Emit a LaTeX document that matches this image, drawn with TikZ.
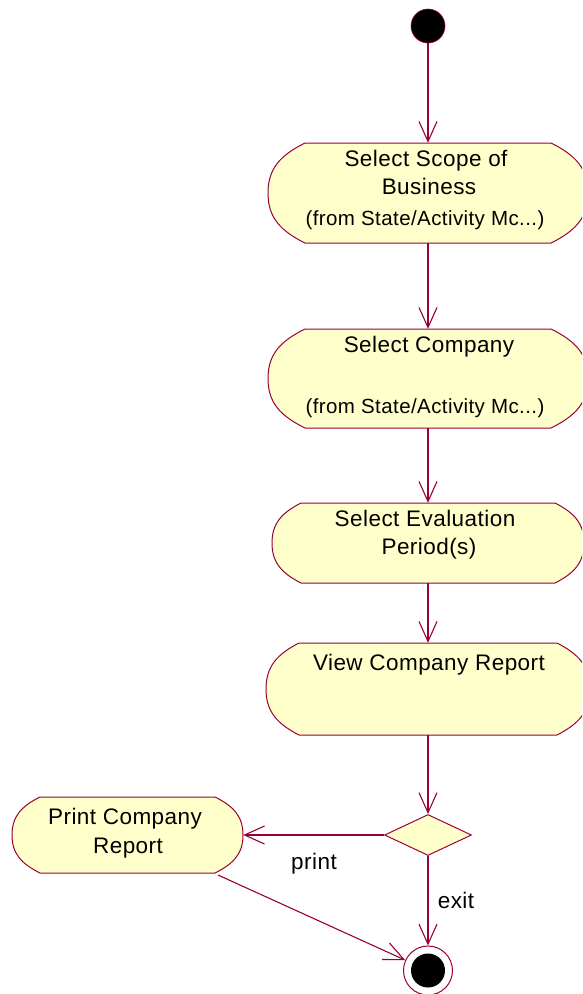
\documentclass[tikz,border=0pt]{standalone}
\usepackage{fontspec}
\setmainfont{Liberation Sans}[LetterSpace=2]
\usetikzlibrary{arrows.meta,shapes.geometric,fit}
\definecolor{linecol}{RGB}{153,0,51}
\definecolor{boxfill}{RGB}{255,255,204}
\tikzset{
  actline/.style={draw=linecol, fill=boxfill, line width=1pt},
  arr/.style={draw=linecol, line width=1.1pt, -{Straight Barb[length=20pt,width=18pt,line width=1.1pt]}},
  maintext/.style={anchor=base, inner sep=0, font=\fontsize{22.5}{28}\selectfont},
  subtext/.style={anchor=base, inner sep=0, font=\fontsize{20.5}{26}\selectfont},
  holder/.style={inner sep=0, draw=none}
}
% #1 name, #2 x0, #3 y0, #4 x1, #5 y1, #6 rx
\newcommand\actbox[6]{%
  \path[actline] ({#2+#6},#3) -- ({#4-#6},#3)
    .. controls ({#4-0.35*#6},{#3+0.12*(#5-#3)}) and (#4,{(#3+#5)/2-0.25*(#5-#3)}) .. (#4,{(#3+#5)/2})
    .. controls (#4,{(#3+#5)/2+0.25*(#5-#3)}) and ({#4-0.35*#6},{#5-0.12*(#5-#3)}) .. ({#4-#6},#5)
    -- ({#2+#6},#5)
    .. controls ({#2+0.35*#6},{#5-0.12*(#5-#3)}) and (#2,{(#3+#5)/2+0.25*(#5-#3)}) .. (#2,{(#3+#5)/2})
    .. controls (#2,{(#3+#5)/2-0.25*(#5-#3)}) and ({#2+0.35*#6},{#3+0.12*(#5-#3)}) .. cycle;
  \node[holder, fit={(#2,#3) (#4,#5)}] (#1) {};
}
\begin{document}
\begin{tikzpicture}[x=1pt,y=-1pt]
\useasboundingbox (0,0) rectangle (582,994);
\clip (0,0) rectangle (582,994);

% start
\node[circle, fill=black, draw=linecol, line width=0.6pt, minimum size=34pt, inner sep=0] (start) at (428,26) {};

% activities
\actbox{b1}{268}{143}{588}{243}{37}
\node[maintext] (b1a) at (426,166) {Select Scope of};
\node[maintext] (b1b) at (429,194.5) {Business};
\node[subtext] (b1c) at (425,225) {(from State/Activity Mc...)};

\actbox{b2}{268}{329}{588}{428}{37}
\node[maintext] (b2a) at (429,352) {Select Company};
\node[subtext] (b2c) at (425,413) {(from State/Activity Mc...)};

\actbox{b3}{272}{503}{584}{583}{29}
\node[maintext] (b3a) at (425,526) {Select Evaluation};
\node[maintext] (b3b) at (429,554.5) {Period(s)};

\actbox{b4}{266}{643}{590}{735}{33}
\node[maintext] (b4a) at (429,670) {View Company Report};

\actbox{b5}{12}{797}{243}{873}{28}
\node[maintext] (b5a) at (125,824.5) {Print Company};
\node[maintext] (b5b) at (128,853) {Report};

% decision
\node[diamond, actline, minimum width=87pt, minimum height=41pt, inner sep=0, aspect=2.12] (dia) at (428,835) {};

% end
\node[circle, draw=linecol, fill=white, line width=1pt, minimum size=49pt, inner sep=0] (endc) at (428,970.5) {};
\node[circle, fill=black, minimum size=34pt, inner sep=0] (endin) at (428,970.5) {};

\coordinate (b5out) at (218,875);

% connectors
\draw[arr] (start.south) -- (b1.north);
\draw[arr] (b1.south) -- (b2.north);
\draw[arr] (b2.south) -- (b3.north);
\draw[arr] (b3.south) -- (b4.north);
\draw[arr] (b4.south) -- (dia.north);
\draw[arr] (dia.west) -- (b5.east);
\draw[arr] (dia.south) -- (endc.north);
\draw[arr] (b5out) -- (endc);

\node[maintext] (lprint) at (314,869) {print};
\node[maintext] (lexit) at (456,908) {exit};
\end{tikzpicture}
\end{document}
